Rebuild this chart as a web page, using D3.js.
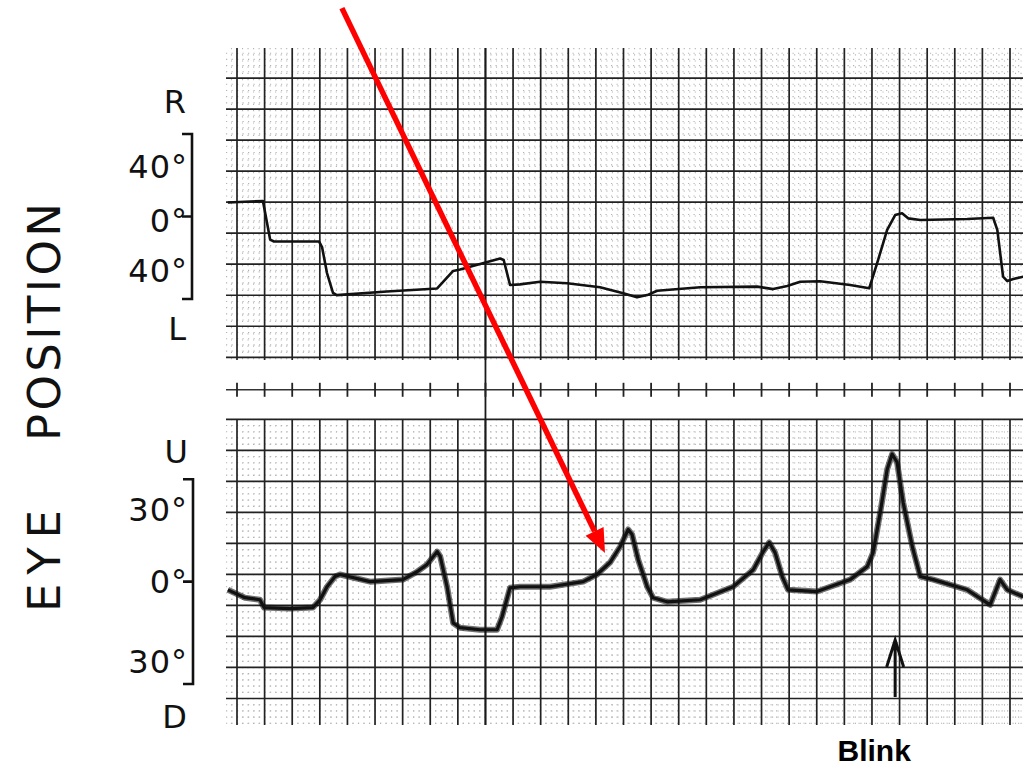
<!DOCTYPE html>
<html>
<head>
<meta charset="utf-8">
<script src="https://cdn.jsdelivr.net/npm/d3@7"></script>
<style>
  body { margin: 0; background: #fff; }
  svg { display: block; }
</style>
</head>
<body>
<script>
// horizontal eye position (top trace), time in chart divisions, degrees (+ = R)
var hTime = [-0.33, 0.94, 1.20, 1.34, 2.97, 3.08, 3.26, 3.48, 3.62, 5.43, 7.25, 7.83, 8.08, 9.53, 9.66, 9.89, 10.25, 10.98, 11.96, 13.15, 13.99, 14.49, 14.86, 15.22, 16.78, 18.84, 19.42, 19.93, 20.40, 21.12, 22.21, 22.90, 23.19, 23.55, 23.84, 24.09, 24.31, 24.75, 26.45, 27.39, 27.54, 27.75, 27.90, 28.12, 28.48];
var hDeg = [6.8, 7.5, -11.2, -12.1, -12.1, -14.8, -27.4, -37.1, -38.1, -36.4, -34.9, -26.4, -25.7, -20.4, -21.1, -33.2, -32.9, -31.6, -32.4, -34.3, -37.2, -39.2, -38.1, -36.0, -34.3, -34.0, -35.2, -33.7, -31.6, -31.4, -33.2, -34.8, -22.5, -6.5, 0.7, 1.6, -0.9, -1.7, -1.2, -0.6, -6.5, -29.2, -31.3, -30.3, -29.2];

// vertical eye position (bottom trace), degrees (+ = U)
var vTime = [-0.33, 0.29, 0.83, 0.98, 1.92, 2.75, 3.01, 3.26, 3.55, 3.73, 4.82, 6.01, 6.52, 6.88, 7.25, 7.36, 7.61, 7.83, 8.08, 8.80, 9.42, 9.60, 9.89, 10.25, 11.34, 12.54, 13.04, 13.51, 13.88, 14.17, 14.31, 14.53, 14.86, 15.07, 15.58, 16.78, 17.97, 18.70, 19.06, 19.28, 19.49, 19.75, 19.96, 21.01, 22.21, 22.83, 23.04, 23.30, 23.55, 23.73, 23.91, 24.13, 24.46, 24.75, 25.22, 26.45, 27.28, 27.64, 27.90, 28.48];
var vDeg = [-2.4, -4.7, -5.3, -7.6, -7.9, -7.6, -5.3, -1.5, 1.5, 2.1, 0, 0.6, 2.9, 5.0, 8.8, 7.4, -1.5, -12.1, -13.5, -14.1, -14.1, -10.3, -1.8, -1.5, -1.5, 0, 2.1, 5.6, 10.3, 15.3, 13.8, 6.5, -1.5, -4.7, -5.9, -5.3, -1.5, 3.5, 8.8, 11.5, 8.5, 1.5, -2.4, -2.9, 0.6, 4.4, 8.5, 20.3, 32.9, 37.4, 35.0, 23.2, 10.3, 1.5, 0.6, -2.4, -6.8, 0.6, -2.4, -4.4];

var hLabels = ["40°", "0°", "40°"];
var vLabels = ["30°", "0°", "30°"];

// annotations (bottom panel coordinates)
var arrowStart = [3.80, 168.1];
var arrowTip = [13.33, 8.4];
var blinkTime = 23.84;
var blinkDeg = [-33.8, -17.1];

var width = 1023, height = 768;

var svg = d3.select('body')
    .append('svg')
    .attr('width', width)
    .attr('height', height);

var x = d3.scaleLinear().domain([0, 28]).range([237, 1010]);
var gridTop = d3.scaleLinear().domain([0, 10]).range([47, 357.3]);
var gridBot = d3.scaleLinear().domain([0, 10]).range([419.3, 729.5]);
var yH = d3.scaleLinear().domain([-40, 40]).range([299, 134]);
var yV = d3.scaleLinear().domain([-30, 30]).range([684, 479.3]);

var left = 226, right = 1023;

// chart paper grid for a panel
function drawGrid(g, gy, rows, vTop, vBot) {
    var minorX = d3.range(-1, 28 * 5 + 3).map(d => d / 5).filter(d => x(d) > left && x(d) < right && d % 1 !== 0);
    var minorY = d3.range(0, 50).map(d => d / 5).filter(d => d % 1 !== 0 && gy(d) > vTop && gy(d) < vBot);

    g.selectAll('.mx').data(minorX).enter().append('line')
        .attr('x1', d => x(d)).attr('x2', d => x(d))
        .attr('y1', vTop).attr('y2', vBot)
        .attr('stroke', '#b4b4b4').attr('stroke-width', 1.1)
        .attr('stroke-dasharray', '1.2,5');
    g.selectAll('.my').data(minorY).enter().append('line')
        .attr('x1', left).attr('x2', right)
        .attr('y1', d => gy(d)).attr('y2', d => gy(d))
        .attr('stroke', '#b4b4b4').attr('stroke-width', 1.1)
        .attr('stroke-dasharray', '1.2,4.3');

    g.selectAll('.vx').data(d3.range(0, 29)).enter().append('line')
        .attr('x1', d => x(d)).attr('x2', d => x(d))
        .attr('y1', vTop).attr('y2', vBot)
        .attr('stroke', '#222').attr('stroke-width', 1.7);
    g.selectAll('.hy').data(rows).enter().append('line')
        .attr('x1', left).attr('x2', right)
        .attr('y1', d => gy(d)).attr('y2', d => gy(d))
        .attr('stroke', '#222').attr('stroke-width', 1.7);
}

drawGrid(svg.append('g'), gridTop, d3.range(1, 11), 48, 360);
drawGrid(svg.append('g'), gridBot, d3.range(0, 10), 419, 725);

// long marker line crossing both panels
svg.append('line')
    .attr('x1', x(9)).attr('x2', x(9))
    .attr('y1', 48).attr('y2', 725)
    .attr('stroke', '#1a1a1a').attr('stroke-width', 1.8);

// time line with ticks between panels
var midY = (gridTop(10) + gridBot(0)) / 2 + 1.5;
svg.append('line')
    .attr('x1', left).attr('x2', right)
    .attr('y1', midY).attr('y2', midY)
    .attr('stroke', '#333').attr('stroke-width', 1.6);
svg.selectAll('.tick').data(d3.range(0, 29)).enter().append('line')
    .attr('x1', d => x(d)).attr('x2', d => x(d))
    .attr('y1', midY - 7).attr('y2', midY + 7)
    .attr('stroke', '#222').attr('stroke-width', 1.8);

// traces
var hLine = d3.line().x(d => x(d[0])).y(d => yH(d[1]));
var vLine = d3.line().x(d => x(d[0])).y(d => yV(d[1]));
var hData = d3.zip(hTime, hDeg);
var vData = d3.zip(vTime, vDeg);

svg.append('path').datum(hData)
    .attr('d', hLine)
    .attr('fill', 'none').attr('stroke', '#111').attr('stroke-width', 2.6)
    .attr('stroke-linejoin', 'round');

svg.append('path').datum(vData)
    .attr('d', vLine)
    .attr('fill', 'none').attr('stroke', '#111').attr('stroke-width', 6)
    .attr('stroke-opacity', 0.6).attr('stroke-linejoin', 'round');
svg.append('path').datum(vData)
    .attr('d', vLine)
    .attr('fill', 'none').attr('stroke', '#111').attr('stroke-width', 3.2)
    .attr('stroke-linejoin', 'round');

// calibration brackets
function bracket(y, vals, bx) {
    var top = y(vals[0]), bot = y(vals[2]), mid = y(vals[1]);
    svg.append('path')
        .attr('d', `M${bx - 10},${top}H${bx}V${bot}H${bx - 10}M${bx},${mid}H${bx - 10}`)
        .attr('fill', 'none').attr('stroke', '#111').attr('stroke-width', 2.6);
}
bracket(yH, [40, 0, -40], 192);
bracket(yV, [30, 0, -30], 193);

var font = "'DejaVu Sans', sans-serif";
function label(txt, xx, yy) {
    svg.append('text')
        .attr('x', xx).attr('y', yy)
        .attr('text-anchor', 'end')
        .attr('font-family', font).attr('font-size', 32)
        .attr('letter-spacing', 1)
        .attr('fill', '#111')
        .text(txt);
}
label('R', 187, yH(40) - 21);
label(hLabels[0], 188, yH(40) + 44);
label(hLabels[1], 188, yH(0) + 15);
label(hLabels[2], 188, yH(-40) - 17);
label('L', 187, yH(-40) + 41);

label('U', 189, yV(30) - 16);
label(vLabels[0], 188, yV(30) + 42);
label(vLabels[1], 188, yV(0) + 11);
label(vLabels[2], 188, yV(-30) - 11);
label('D', 188, yV(-30) + 44);

// vertical axis title
svg.append('text')
    .attr('transform', 'translate(60,612) rotate(-90)')
    .attr('font-family', font).attr('font-size', 45)
    .attr('textLength', 102).attr('lengthAdjust', 'spacing')
    .attr('fill', '#111')
    .text('EYE');
svg.append('text')
    .attr('transform', 'translate(60,441) rotate(-90)')
    .attr('font-family', font).attr('font-size', 45)
    .attr('textLength', 238).attr('lengthAdjust', 'spacing')
    .attr('fill', '#111')
    .text('POSITION');

// blink marker
var bx = x(blinkTime);
svg.append('path')
    .attr('d', `M${bx},${yV(blinkDeg[0])}V${yV(blinkDeg[1])}M${bx - 8.5},${yV(blinkDeg[1]) + 27}L${bx},${yV(blinkDeg[1])}L${bx + 8.5},${yV(blinkDeg[1]) + 27}`)
    .attr('fill', 'none').attr('stroke', '#111').attr('stroke-width', 3);

svg.append('text')
    .attr('x', x(23.08)).attr('y', yV(-52.5))
    .attr('text-anchor', 'middle')
    .attr('font-family', "'Liberation Sans', Arial, sans-serif")
    .attr('font-weight', 'bold').attr('font-size', 30)
    .attr('fill', '#000')
    .text('Blink');

// red arrow
var x0 = x(arrowStart[0]), y0 = yV(arrowStart[1]);
var x1 = x(arrowTip[0]), y1 = yV(arrowTip[1]);
var ang = Math.atan2(y1 - y0, x1 - x0);
var headLen = 24, headW = 10;
var bxh = x1 - headLen * Math.cos(ang), byh = y1 - headLen * Math.sin(ang);
svg.append('line')
    .attr('x1', x0).attr('y1', y0)
    .attr('x2', bxh).attr('y2', byh)
    .attr('stroke', '#f00').attr('stroke-width', 5.5);
svg.append('path')
    .attr('d', `M${x1},${y1}L${bxh + headW * Math.sin(ang)},${byh - headW * Math.cos(ang)}L${bxh - headW * Math.sin(ang)},${byh + headW * Math.cos(ang)}Z`)
    .attr('fill', '#f00');
</script>
</body>
</html>
